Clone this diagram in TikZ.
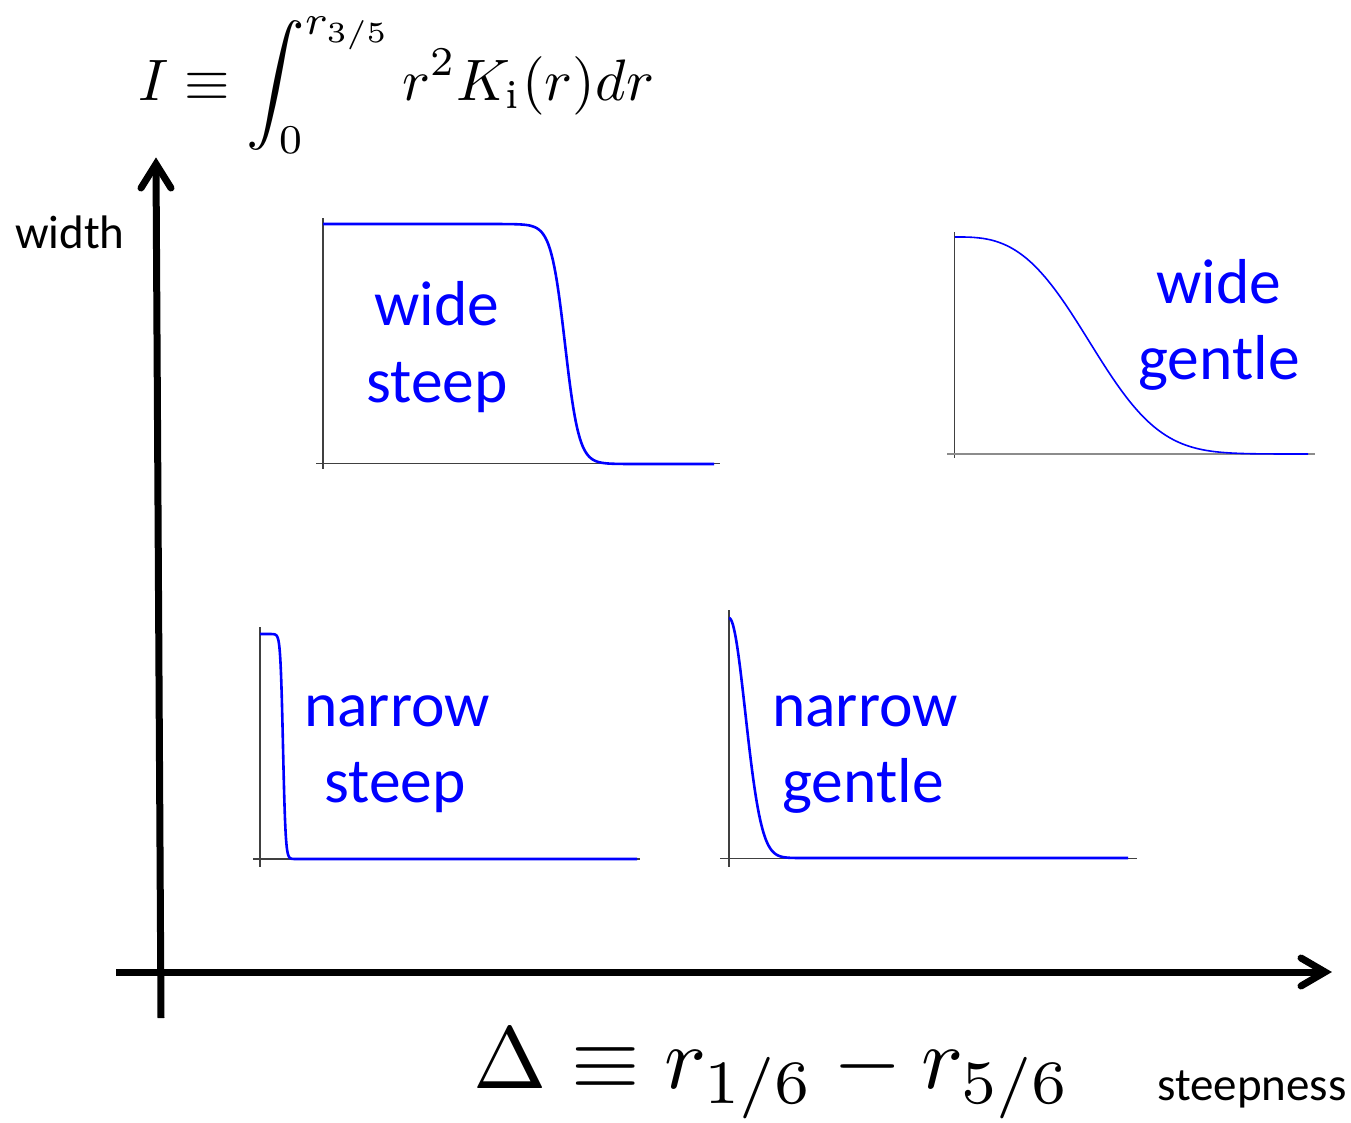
\documentclass[tikz,border=0pt]{standalone}
\usepackage{amsmath}
\usepackage{fontspec}
\newfontfamily\calibri{Carlito}
\begin{document}
\begin{tikzpicture}[x=1pt,y=-1pt,
  declare function={fermi(\x,\m,\w)=1/(1+exp(max(-9,min(9,(\x-\m)/\w))));},
  mainaxis/.style={line width=7pt, line cap=butt},
  mainhead/.style={line width=7pt, line cap=round, line join=miter},
  smallaxis/.style={draw=black!75, line width=1.3pt},
  curve/.style={draw=blue, line width=2.6pt, line join=round},
  lbl/.style={text=blue, font=\calibri\fontsize{63.5}{72}\selectfont, anchor=base, inner sep=0pt},
  axlbl/.style={text=black, font=\calibri\fontsize{47}{55}\selectfont, inner sep=0pt},
  formula/.style={inner sep=0pt, anchor=base west}]
\useasboundingbox (0,0) rectangle (1351,1122);

% main axes
\coordinate (vb) at (161,1018);
\coordinate (vt) at (156,164);
\coordinate (va1) at (141,188);
\coordinate (va2) at (171,188);
\coordinate (hl) at (116,972);
\coordinate (hr) at (1325,972);
\coordinate (ha1) at (1301,958);
\coordinate (ha2) at (1301,986);
\draw[mainaxis] (vb) -- (vt);
\draw[mainhead] (va1) -- (vt) -- (va2);
\draw[mainaxis] (hl) -- (hr);
\draw[mainhead] (ha1) -- (hr) -- (ha2);

% axis labels and formulas
\node[axlbl, anchor=base west] (wlab) at (15,248) {width};
\node[axlbl, anchor=base west] (slab) at (1157,1100) {steepness};
\node[formula, scale=5.85] (Ieq) at (137,100)
  {$\displaystyle I\equiv\int_0^{r_{3/5}} r^2K_{\mathrm{i}}(r)dr$};
\node[formula, scale=8.8] (Deq) at (472,1088)
  {$\Delta\equiv r_{1/6}-r_{5/6}$};

% wide steep
\draw[smallaxis] (323,218) -- (323,469);
\draw[smallaxis] (316,463.5) -- (720,463.5);
\draw[curve] (323,224) -- plot[domain=480:650,samples=150] (\x,{464-240*fermi(\x,565,7)}) -- (714,464);
\node[lbl] (ws1) at (437,325) {wide};
\node[lbl] (ws2) at (437,402) {steep};

% wide gentle
\draw[smallaxis] (954.5,232) -- (954.5,458);
\draw[draw=black!45, line width=1.6pt] (947,454) -- (1315,454);
\draw[draw=blue, line width=1.6pt, line join=round] (955,237) -- plot[domain=956:1308,samples=160]
  (\x,{237+217*(1-exp(-((\x-955)/155)^2.92))});
\node[lbl] (wg1) at (1219,303) {wide};
\node[lbl] (wg2) at (1219,379) {gentle};

% narrow steep
\draw[smallaxis] (260,627) -- (260,867);
\draw[smallaxis] (253,859) -- (640,859);
\draw[curve] (260,634) -- plot[domain=268:298,samples=120] (\x,{859-225*fermi(\x,283,1.3)}) -- (637,859);
\node[lbl] (ns1) at (397,726) {narrow};
\node[lbl] (ns2) at (395,802) {steep};

% narrow gentle
\draw[smallaxis] (729,610) -- (729,867);
\draw[smallaxis] (720,858.5) -- (1137,858.5);
\draw[curve] plot[domain=729:805,samples=120] (\x,{858-240*exp(-((\x-729)/23)^2)}) -- (1128,858);
\node[lbl] (ng1) at (865,726) {narrow};
\node[lbl] (ng2) at (863,802) {gentle};
\end{tikzpicture}
\end{document}
